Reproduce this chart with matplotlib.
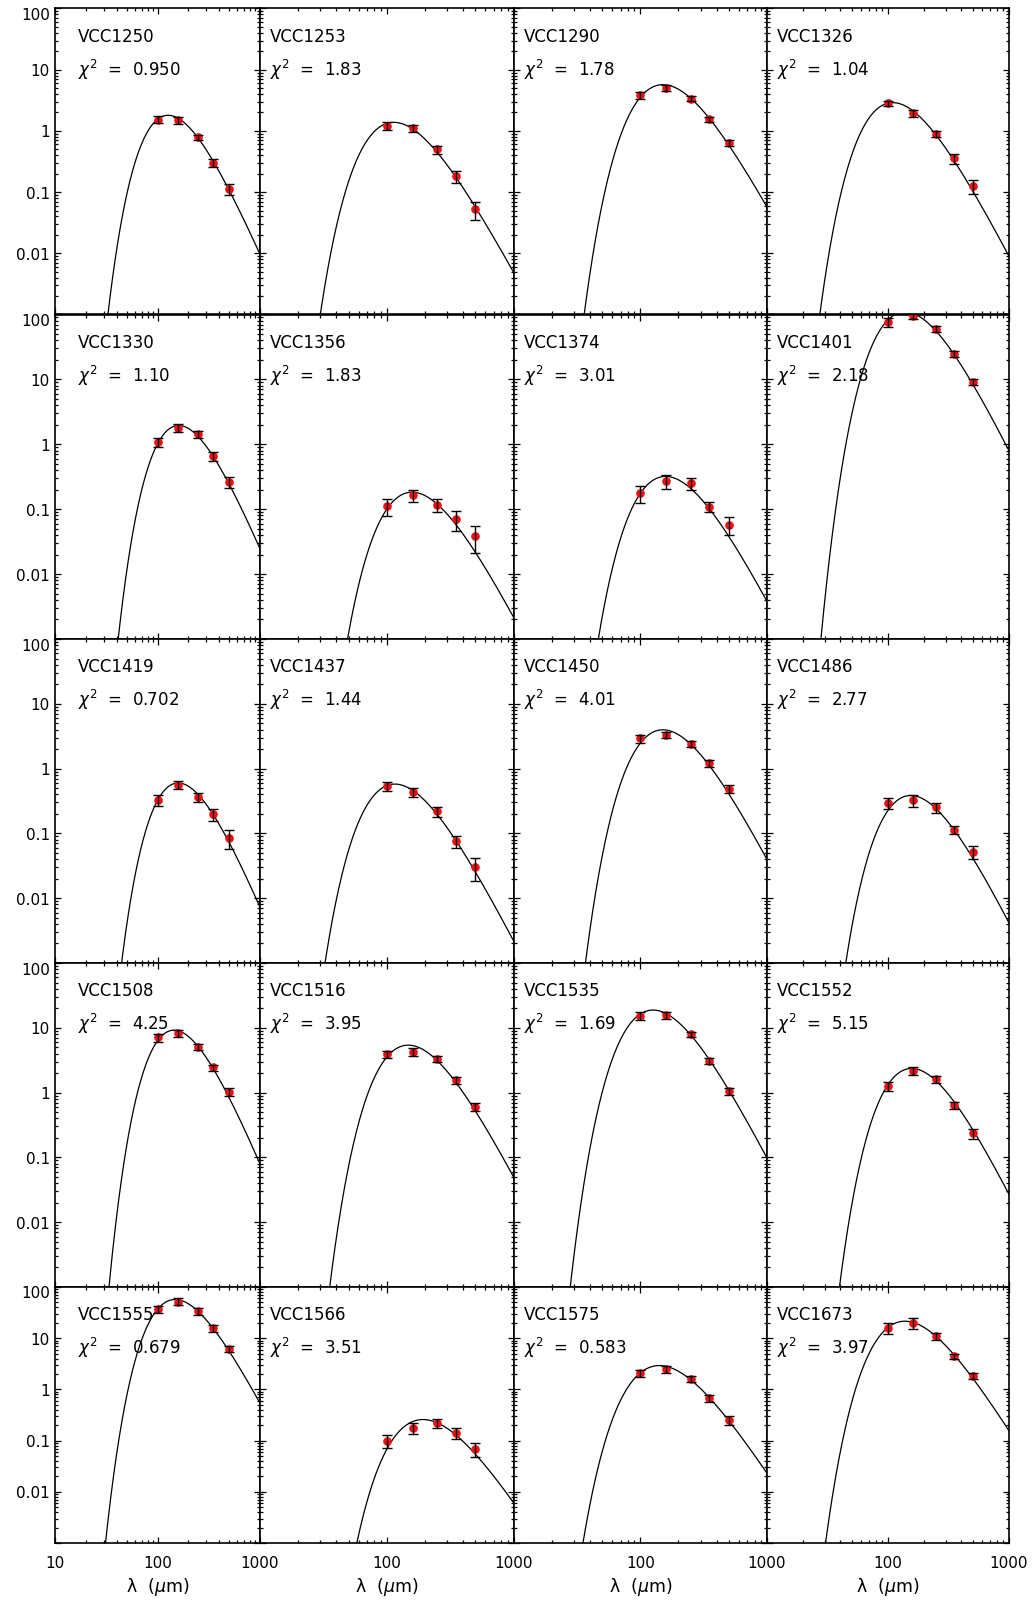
import numpy as np
import matplotlib

matplotlib.use('Agg')

import matplotlib.pyplot as plt

plt.rcParams['font.family'] = ['DejaVu Sans']
plt.rcParams['mathtext.fontset'] = 'dejavusans'

# galaxies, in panel order (row by row)
names = ['VCC1250', 'VCC1253', 'VCC1290', 'VCC1326',
         'VCC1330', 'VCC1356', 'VCC1374', 'VCC1401',
         'VCC1419', 'VCC1437', 'VCC1450', 'VCC1486',
         'VCC1508', 'VCC1516', 'VCC1535', 'VCC1552',
         'VCC1555', 'VCC1566', 'VCC1575', 'VCC1673']
chi2 = ['0.950', '1.83', '1.78', '1.04',
        '1.10', '1.83', '3.01', '2.18',
        '0.702', '1.44', '4.01', '2.77',
        '4.25', '3.95', '1.69', '5.15',
        '0.679', '3.51', '0.583', '3.97']

# Herschel bands [micron]
wave = [100, 160, 250, 350, 500]

# observed fluxes [Jy]
flux = [[1.53, 1.49, 0.79, 0.30, 0.114],
        [1.22, 1.10, 0.50, 0.181, 0.052],
        [3.81, 5.02, 3.36, 1.56, 0.634],
        [2.82, 1.94, 0.89, 0.356, 0.124],
        [1.08, 1.80, 1.42, 0.656, 0.261],
        [0.111, 0.164, 0.118, 0.071, 0.038],
        [0.177, 0.270, 0.249, 0.109, 0.058],
        [76.0, 95.0, 60.0, 24.7, 9.1],
        [0.330, 0.563, 0.363, 0.196, 0.0857],
        [0.531, 0.429, 0.218, 0.0753, 0.0303],
        [2.92, 3.32, 2.41, 1.20, 0.489],
        [0.294, 0.323, 0.252, 0.114, 0.0521],
        [7.1, 8.18, 5.03, 2.44, 1.02],
        [3.88, 4.26, 3.29, 1.54, 0.604],
        [15.3, 15.7, 7.98, 3.10, 1.05],
        [1.26, 2.15, 1.60, 0.634, 0.234],
        [37.4, 52.0, 33.7, 15.7, 6.2],
        [0.100, 0.177, 0.221, 0.141, 0.0698],
        [2.10, 2.51, 1.60, 0.682, 0.257],
        [15.9, 19.9, 10.9, 4.45, 1.81]]

# relative flux errors
ferr = [[0.13, 0.13, 0.10, 0.14, 0.20],
        [0.16, 0.14, 0.15, 0.22, 0.33],
        [0.14, 0.12, 0.10, 0.10, 0.12],
        [0.11, 0.12, 0.12, 0.18, 0.25],
        [0.15, 0.13, 0.12, 0.15, 0.20],
        [0.30, 0.20, 0.22, 0.34, 0.45],
        [0.30, 0.25, 0.22, 0.18, 0.30],
        [0.15, 0.10, 0.10, 0.10, 0.10],
        [0.19, 0.15, 0.15, 0.22, 0.33],
        [0.15, 0.15, 0.17, 0.20, 0.40],
        [0.14, 0.12, 0.12, 0.12, 0.14],
        [0.19, 0.22, 0.17, 0.15, 0.24],
        [0.15, 0.13, 0.11, 0.11, 0.14],
        [0.13, 0.15, 0.10, 0.12, 0.14],
        [0.13, 0.13, 0.09, 0.10, 0.13],
        [0.15, 0.14, 0.12, 0.13, 0.18],
        [0.16, 0.16, 0.14, 0.14, 0.13],
        [0.29, 0.23, 0.20, 0.25, 0.31],
        [0.16, 0.15, 0.14, 0.16, 0.20],
        [0.25, 0.25, 0.14, 0.11, 0.13]]

# fitted modified blackbody (beta = 2): dust temperature [K] and peak flux [Jy]
t_dust = [22.8, 25.5, 19.2, 26.5,
          18.0, 18.3, 18.3, 21.0,
          18.2, 25.0, 19.2, 18.8,
          20.0, 19.6, 23.0, 18.5,
          19.5, 15.0, 20.5, 21.0]
s_peak = [1.80, 1.38, 5.70, 2.90,
          1.95, 0.183, 0.32, 110.0,
          0.60, 0.577, 3.97, 0.385,
          9.20, 5.40, 18.8, 2.36,
          57.0, 0.258, 2.92, 21.5]
beta = 2.0


def mbb(lam, T):
    return lam ** (-(3.0 + beta)) / np.expm1(14387.77 / (lam * T))


# panel frame edges in pixels (figure is 1035 x 1601)
W, H = 1035.0, 1601.0
col_x = [55, 260, 513.5, 767, 1009]
row_y = [8.5, 314.5, 639, 963, 1287, 1543]

fig = plt.figure(figsize=(W / 100, H / 100), dpi=100)

lam = np.logspace(1, 3, 500)
ylab = ['0.01', '0.1', '1', '10', '100']
yval = [1e-2, 1e-1, 1, 10, 100]

for i in range(20):
    r, c = divmod(i, 4)
    x0, x1 = col_x[c], col_x[c + 1]
    y0, y1 = row_y[r], row_y[r + 1]
    ax = fig.add_axes([x0 / W, 1 - y1 / H, (x1 - x0) / W, (y1 - y0) / H])
    ax.set_xscale('log')
    ax.set_yscale('log')

    model = mbb(lam, t_dust[i])
    ax.plot(lam, model / model.max() * s_peak[i], color='black', lw=0.9, zorder=2)

    f = np.array(flux[i])
    e = np.array(ferr[i]) * f
    ax.plot(wave, f, 'o', color='#ee1111', ms=5.2, mec='#ee1111', zorder=3)
    ax.errorbar(wave, f, yerr=e, fmt='none', ecolor='black', elinewidth=1.0,
                capsize=3.3, capthick=1.0, zorder=4)

    ax.set_xlim(10, 1000)
    ax.set_ylim(1e-3, 100)
    ax.set_xticks([10, 100, 1000])
    ax.set_yticks([1e-3, 1e-2, 1e-1, 1, 10, 100])
    ax.yaxis.set_major_formatter(plt.NullFormatter())
    if r == 4:
        if c == 0:
            ax.set_xticklabels(['10', '100', '1000'])
        else:
            ax.set_xticklabels(['', '100', '1000'])
        ax.set_xlabel(r'λ  ($\mu$m)', fontsize=12.5, labelpad=4)
    else:
        ax.set_xticklabels(['', '', ''])
    ax.xaxis.set_minor_formatter(plt.NullFormatter())
    ax.yaxis.set_minor_formatter(plt.NullFormatter())

    ax.tick_params(which='both', direction='in', top=True, right=True, width=0.9)
    ax.tick_params(which='major', length=4.5, labelsize=11, pad=9)
    ax.tick_params(which='minor', length=2.2)
    for s in ax.spines.values():
        s.set_linewidth(1.2)

    if c == 0:
        for v, t in zip(yval, ylab):
            dy = -7 if v == 100 else -2
            ax.annotate(t, xy=(0, v), xycoords=ax.get_yaxis_transform(),
                        xytext=(-5, dy), textcoords='offset pixels',
                        ha='right', va='center', fontsize=11)

    dx = 23 if c == 0 else 10
    ax.annotate(names[i], xy=(0, 1), xycoords='axes fraction',
                xytext=(dx, -33), textcoords='offset pixels',
                ha='left', va='baseline', fontsize=12)
    ax.annotate(r'$\chi^2$  =  ' + chi2[i], xy=(0, 1), xycoords='axes fraction',
                xytext=(dx, -67), textcoords='offset pixels',
                ha='left', va='baseline', fontsize=12)

fig.savefig('out.png', dpi=100)
